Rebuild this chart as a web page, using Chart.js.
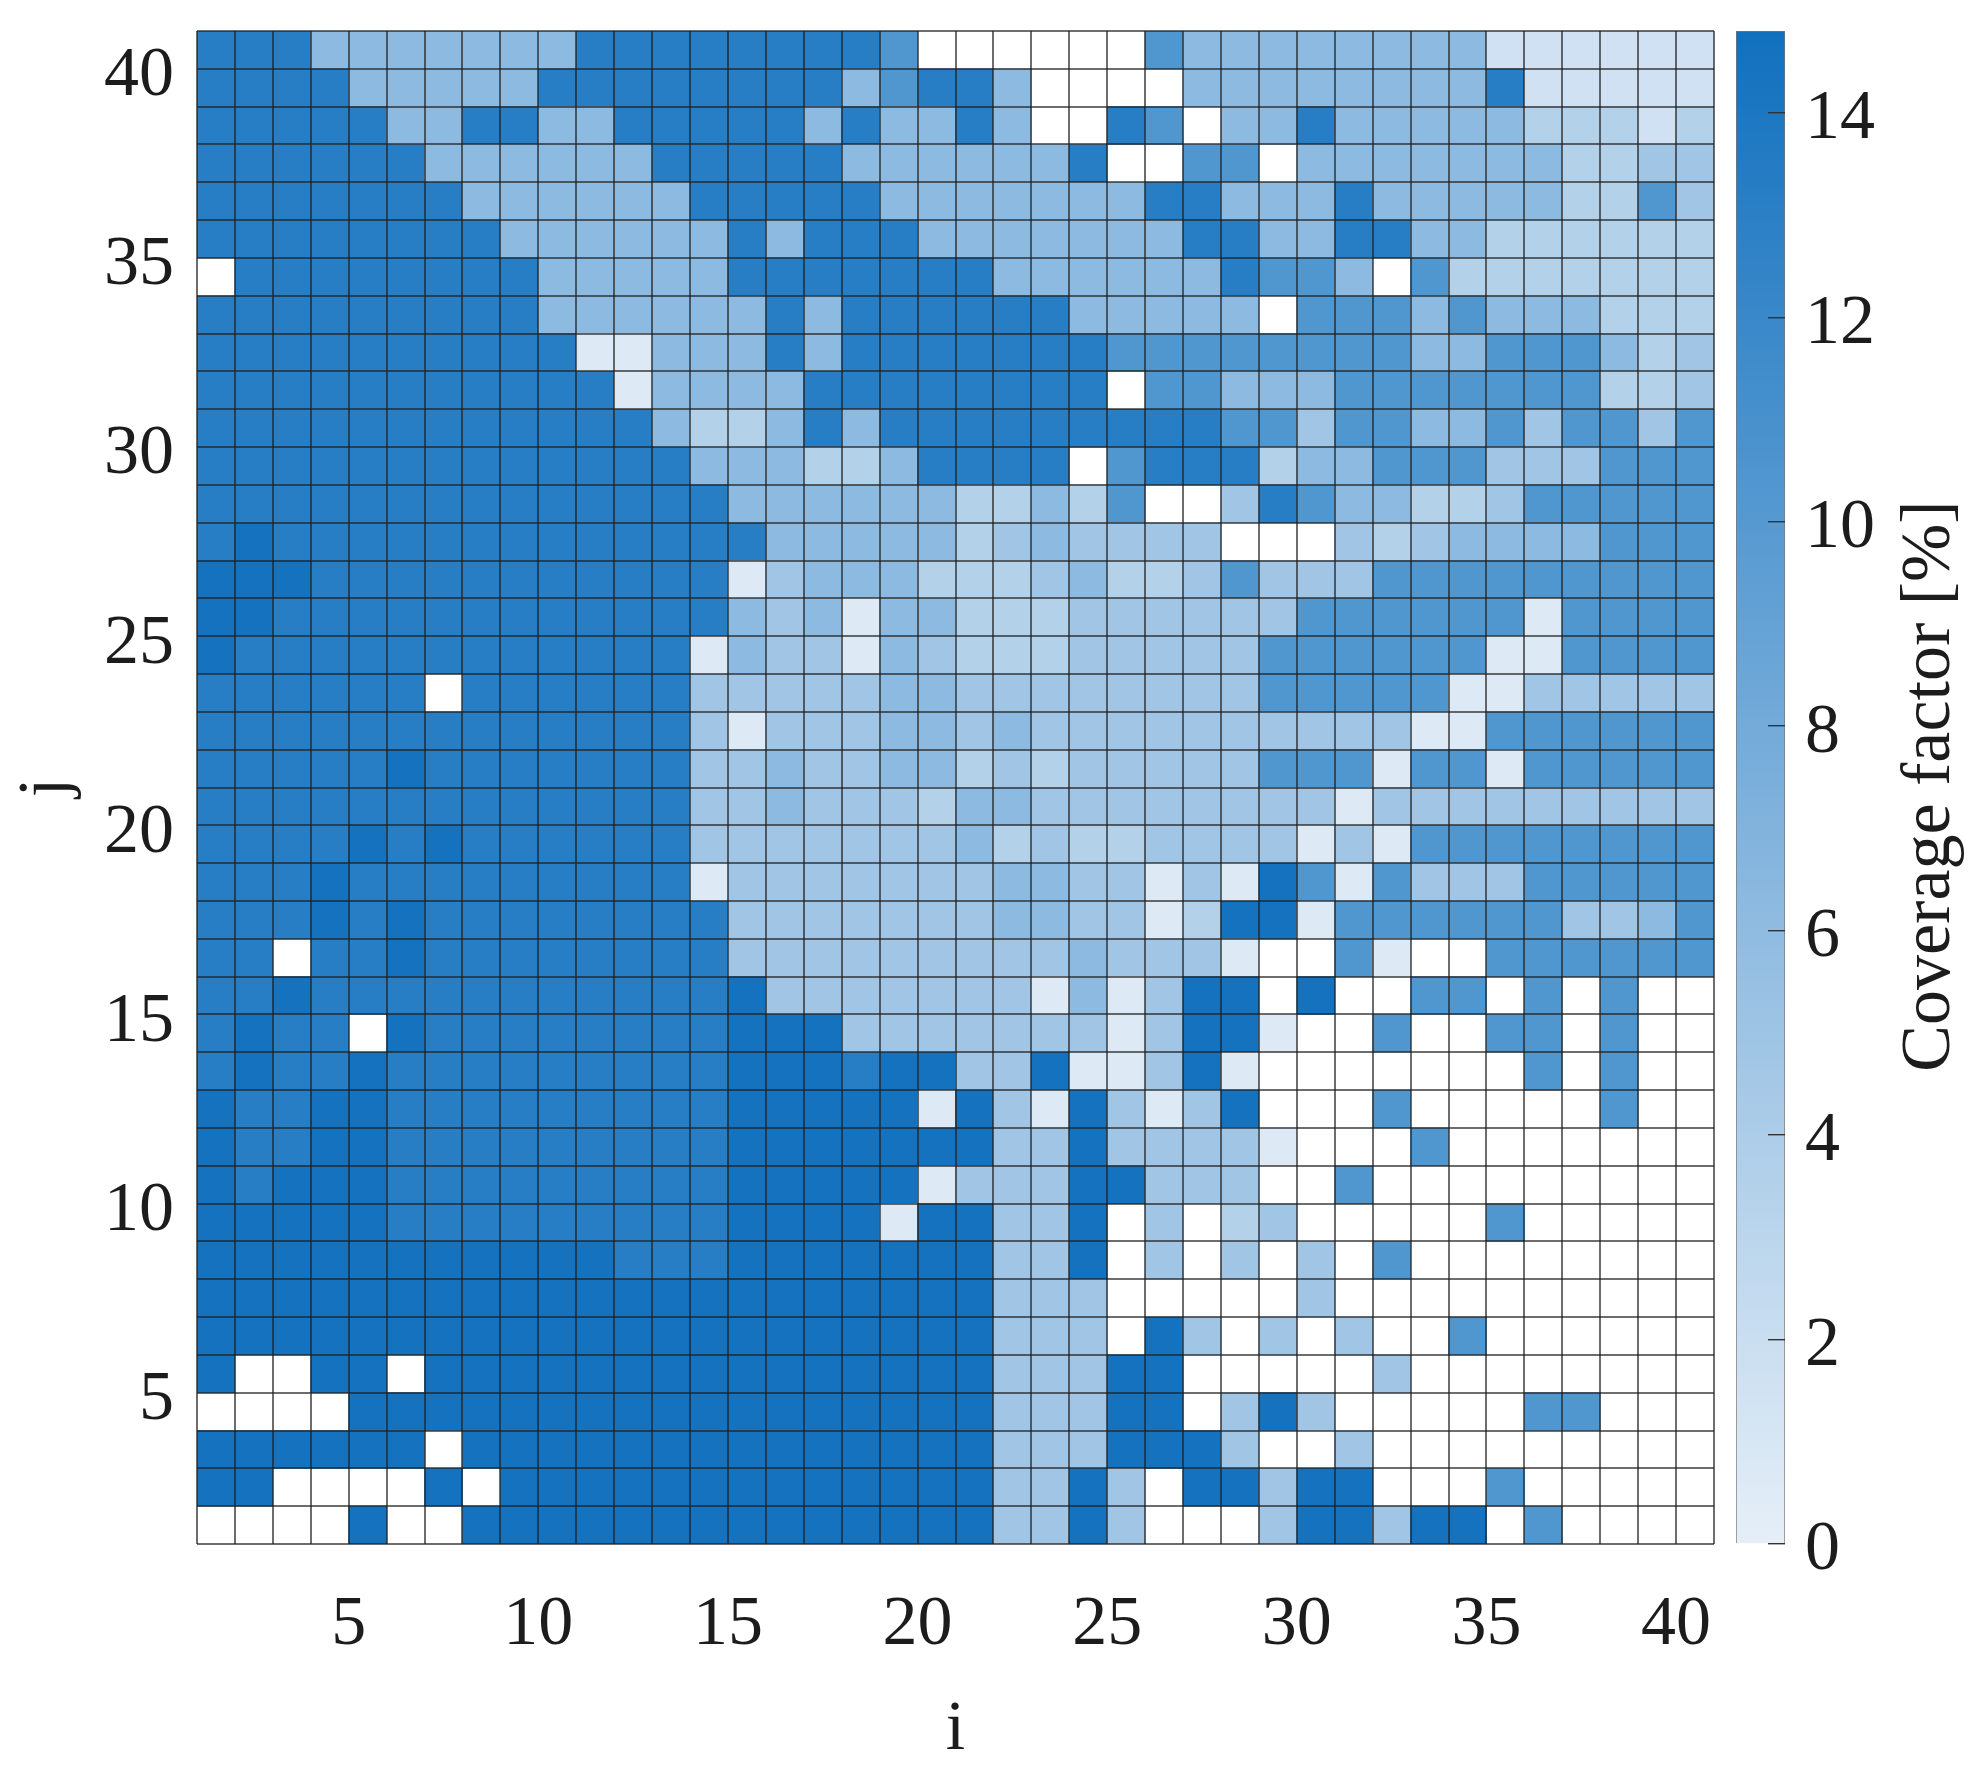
<!DOCTYPE html>
<html>
<head>
<meta charset="utf-8">
<title>Coverage factor</title>
<script src="https://cdn.jsdelivr.net/npm/chart.js@4"></script>
<style>
  html, body { margin: 0; padding: 0; background: #fff; }
  #page { position: relative; width: 1973px; height: 1777px; overflow: hidden; }
  #mapBox { position: absolute; left: 0; top: 0; width: 1722px; height: 1777px; }
  #barBox { position: absolute; left: 1730px; top: 0; width: 243px; height: 1777px; }
</style>
</head>
<body>
<div id="page">
  <div id="mapBox"><canvas id="mapChart"></canvas></div>
  <div id="barBox"><canvas id="barChart"></canvas></div>
</div>
<script>
// Coverage factor [%] per cell, one array per row j, columns i = 1..40. _ = no value (white)
const _ = null;
const j40 = [13.2,13.2,13.2,6.2,6.2,6.2,6.2,6.2,6.2,6.2,13.2,13.2,13.2,13.2,13.2,13.2,13.2,13.2,10.4,_,_,_,_,_,_,10.4,6.2,6.2,6.2,6.2,6.2,6.2,6.2,6.2,1.6,1.6,1.6,1.6,1.6,1.6];
const j39 = [13.2,13.2,13.2,13.2,6.2,6.2,6.2,6.2,6.2,13.2,13.2,13.2,13.2,13.2,13.2,13.2,13.2,6.2,10.4,13.2,13.2,6.2,_,_,_,_,6.2,6.2,6.2,6.2,6.2,6.2,6.2,6.2,13.2,1.6,1.6,1.6,1.6,1.6];
const j38 = [13.2,13.2,13.2,13.2,13.2,6.2,6.2,13.2,13.2,6.2,6.2,13.2,13.2,13.2,13.2,13.2,6.2,13.2,6.2,6.2,13.2,6.2,_,_,13.2,10.4,_,6.2,6.2,13.2,6.2,6.2,6.2,6.2,6.2,3.5,3.5,3.5,1.6,3.5];
const j37 = [13.2,13.2,13.2,13.2,13.2,13.2,6.2,6.2,6.2,6.2,6.2,6.2,13.2,13.2,13.2,13.2,13.2,6.2,6.2,6.2,6.2,6.2,6.2,13.2,_,_,10.4,10.4,_,6.2,6.2,6.2,6.2,6.2,6.2,6.2,3.5,3.5,4.8,4.8];
const j36 = [13.2,13.2,13.2,13.2,13.2,13.2,13.2,6.2,6.2,6.2,6.2,6.2,6.2,13.2,13.2,13.2,13.2,13.2,6.2,6.2,6.2,6.2,6.2,6.2,6.2,13.2,13.2,6.2,6.2,6.2,13.2,6.2,6.2,6.2,6.2,6.2,3.5,3.5,10.4,4.8];
const j35 = [13.2,13.2,13.2,13.2,13.2,13.2,13.2,13.2,6.2,6.2,6.2,6.2,6.2,6.2,13.2,6.2,13.2,13.2,13.2,6.2,6.2,6.2,6.2,6.2,6.2,6.2,13.2,13.2,6.2,6.2,13.2,13.2,6.2,6.2,3.5,3.5,3.5,3.5,3.5,3.5];
const j34 = [_,13.2,13.2,13.2,13.2,13.2,13.2,13.2,13.2,6.2,6.2,6.2,6.2,6.2,13.2,13.2,13.2,13.2,13.2,13.2,13.2,6.2,6.2,6.2,6.2,6.2,6.2,13.2,10.4,10.4,6.2,_,10.4,3.5,3.5,3.5,3.5,3.5,3.5,3.5];
const j33 = [13.2,13.2,13.2,13.2,13.2,13.2,13.2,13.2,13.2,6.2,6.2,6.2,6.2,6.2,6.2,13.2,6.2,13.2,13.2,13.2,13.2,13.2,13.2,6.2,6.2,6.2,6.2,6.2,_,10.4,10.4,10.4,6.2,10.4,6.2,6.2,6.2,3.5,3.5,3.5];
const j32 = [13.2,13.2,13.2,13.2,13.2,13.2,13.2,13.2,13.2,13.2,0.6,0.6,6.2,6.2,6.2,13.2,6.2,13.2,13.2,13.2,13.2,13.2,13.2,13.2,10.4,10.4,10.4,10.4,10.4,10.4,10.4,10.4,6.2,6.2,10.4,10.4,10.4,6.2,3.5,4.8];
const j31 = [13.2,13.2,13.2,13.2,13.2,13.2,13.2,13.2,13.2,13.2,13.2,0.6,6.2,6.2,6.2,6.2,13.2,13.2,13.2,13.2,13.2,13.2,13.2,13.2,_,10.4,10.4,6.2,6.2,6.2,10.4,10.4,10.4,10.4,10.4,10.4,10.4,3.5,3.5,4.8];
const j30 = [13.2,13.2,13.2,13.2,13.2,13.2,13.2,13.2,13.2,13.2,13.2,13.2,6.2,3.5,3.5,6.2,13.2,6.2,13.2,13.2,13.2,13.2,13.2,13.2,13.2,13.2,13.2,10.4,10.4,4.8,10.4,10.4,6.2,6.2,10.4,4.8,10.4,10.4,4.8,10.4];
const j29 = [13.2,13.2,13.2,13.2,13.2,13.2,13.2,13.2,13.2,13.2,13.2,13.2,13.2,6.2,6.2,6.2,3.5,3.5,6.2,13.2,13.2,13.2,13.2,_,10.4,13.2,13.2,13.2,3.5,6.2,6.2,10.4,10.4,10.4,4.8,4.8,4.8,10.4,10.4,10.4];
const j28 = [13.2,13.2,13.2,13.2,13.2,13.2,13.2,13.2,13.2,13.2,13.2,13.2,13.2,13.2,6.2,6.2,6.2,6.2,6.2,6.2,3.5,3.5,6.2,3.5,10.4,_,_,4.8,13.2,10.4,6.2,6.2,3.5,3.5,4.8,10.4,10.4,10.4,10.4,10.4];
const j27 = [13.2,14.6,13.2,13.2,13.2,13.2,13.2,13.2,13.2,13.2,13.2,13.2,13.2,13.2,13.2,6.2,6.2,6.2,6.2,6.2,3.5,4.8,6.2,4.8,4.8,4.8,4.8,_,_,_,4.8,3.5,4.8,6.2,6.2,6.2,6.2,10.4,10.4,10.4];
const j26 = [14.6,14.6,14.6,13.2,13.2,13.2,13.2,13.2,13.2,13.2,13.2,13.2,13.2,13.2,0.6,4.8,6.2,6.2,6.2,3.5,3.5,3.5,4.8,6.2,3.5,3.5,4.8,10.4,4.8,4.8,4.8,10.4,10.4,10.4,10.4,10.4,10.4,10.4,10.4,10.4];
const j25 = [14.6,14.6,13.2,13.2,13.2,13.2,13.2,13.2,13.2,13.2,13.2,13.2,13.2,13.2,6.2,4.8,6.2,0.6,6.2,6.2,3.5,3.5,3.5,4.8,4.8,4.8,4.8,4.8,4.8,10.4,10.4,10.4,10.4,10.4,10.4,0.6,10.4,10.4,10.4,10.4];
const j24 = [14.6,13.2,13.2,13.2,13.2,13.2,13.2,13.2,13.2,13.2,13.2,13.2,13.2,0.6,6.2,4.8,4.8,0.6,6.2,4.8,3.5,3.5,3.5,4.8,4.8,4.8,4.8,4.8,10.4,10.4,10.4,10.4,10.4,10.4,0.6,0.6,10.4,10.4,10.4,10.4];
const j23 = [13.2,13.2,13.2,13.2,13.2,13.2,_,13.2,13.2,13.2,13.2,13.2,13.2,4.8,4.8,4.8,4.8,4.8,6.2,6.2,4.8,4.8,4.8,4.8,4.8,4.8,4.8,4.8,10.4,10.4,10.4,10.4,10.4,0.6,0.6,4.8,4.8,4.8,4.8,4.8];
const j22 = [13.2,13.2,13.2,13.2,13.2,13.2,13.2,13.2,13.2,13.2,13.2,13.2,13.2,4.8,0.6,4.8,4.8,4.8,6.2,6.2,4.8,6.2,4.8,4.8,4.8,4.8,4.8,4.8,4.8,4.8,4.8,4.8,0.6,0.6,10.4,10.4,10.4,10.4,10.4,10.4];
const j21 = [13.2,13.2,13.2,13.2,13.2,14.6,13.2,13.2,13.2,13.2,13.2,13.2,13.2,4.8,4.8,6.2,4.8,4.8,6.2,6.2,3.5,4.8,3.5,4.8,4.8,4.8,4.8,4.8,10.4,10.4,10.4,0.6,10.4,10.4,0.6,10.4,10.4,10.4,10.4,10.4];
const j20 = [13.2,13.2,13.2,13.2,13.2,13.2,13.2,13.2,13.2,13.2,13.2,13.2,13.2,4.8,4.8,6.2,4.8,4.8,4.8,3.5,6.2,6.2,4.8,4.8,4.8,4.8,4.8,4.8,4.8,4.8,0.6,4.8,4.8,4.8,4.8,4.8,4.8,4.8,4.8,4.8];
const j19 = [13.2,13.2,13.2,13.2,14.6,13.2,14.6,13.2,13.2,13.2,13.2,13.2,13.2,4.8,4.8,4.8,4.8,4.8,4.8,4.8,6.2,3.5,4.8,3.5,3.5,4.8,4.8,4.8,4.8,0.6,4.8,0.6,10.4,10.4,10.4,10.4,10.4,10.4,10.4,10.4];
const j18 = [13.2,13.2,13.2,14.6,13.2,13.2,13.2,13.2,13.2,13.2,13.2,13.2,13.2,0.6,4.8,4.8,4.8,4.8,4.8,4.8,4.8,6.2,6.2,4.8,4.8,0.6,4.8,0.6,14.6,10.4,0.6,10.4,4.8,4.8,4.8,10.4,10.4,10.4,10.4,10.4];
const j17 = [13.2,13.2,13.2,14.6,13.2,14.6,13.2,13.2,13.2,13.2,13.2,13.2,13.2,13.2,4.8,4.8,4.8,4.8,4.8,4.8,4.8,6.2,6.2,4.8,4.8,0.6,3.5,14.6,14.6,0.6,10.4,10.4,10.4,10.4,10.4,10.4,4.8,4.8,6.2,10.4];
const j16 = [13.2,13.2,_,13.2,13.2,14.6,13.2,13.2,13.2,13.2,13.2,13.2,13.2,13.2,4.8,4.8,4.8,4.8,4.8,4.8,4.8,4.8,4.8,6.2,4.8,4.8,4.8,0.6,_,_,10.4,0.6,_,_,10.4,10.4,10.4,10.4,10.4,10.4];
const j15 = [13.2,13.2,14.6,13.2,13.2,13.2,13.2,13.2,13.2,13.2,13.2,13.2,13.2,13.2,14.6,4.8,4.8,4.8,4.8,4.8,4.8,4.8,0.6,6.2,0.6,4.8,14.6,14.6,_,14.6,_,_,10.4,10.4,_,10.4,_,10.4,_,_];
const j14 = [13.2,14.6,13.2,13.2,_,14.6,13.2,13.2,13.2,13.2,13.2,13.2,13.2,13.2,14.6,14.6,14.6,4.8,4.8,4.8,4.8,4.8,4.8,4.8,0.6,4.8,14.6,14.6,0.6,_,_,10.4,_,_,10.4,10.4,_,10.4,_,_];
const j13 = [13.2,14.6,13.2,13.2,14.6,13.2,13.2,13.2,13.2,13.2,13.2,13.2,13.2,13.2,14.6,14.6,14.6,13.2,14.6,14.6,4.8,4.8,14.6,0.6,0.6,4.8,14.6,0.6,_,_,_,_,_,_,_,10.4,_,10.4,_,_];
const j12 = [14.6,13.2,13.2,14.6,14.6,13.2,13.2,13.2,13.2,13.2,13.2,13.2,13.2,13.2,14.6,14.6,14.6,14.6,14.6,0.6,14.6,4.8,0.6,14.6,4.8,0.6,4.8,14.6,_,_,_,10.4,_,_,_,_,_,10.4,_,_];
const j11 = [14.6,13.2,13.2,14.6,14.6,13.2,13.2,13.2,13.2,13.2,13.2,13.2,13.2,13.2,14.6,14.6,14.6,14.6,14.6,14.6,14.6,4.8,4.8,14.6,4.8,4.8,4.8,4.8,0.6,_,_,_,10.4,_,_,_,_,_,_,_];
const j10 = [14.6,13.2,14.6,14.6,14.6,13.2,13.2,13.2,13.2,13.2,13.2,13.2,13.2,13.2,14.6,14.6,14.6,14.6,14.6,0.6,4.8,4.8,4.8,14.6,14.6,4.8,4.8,4.8,_,_,10.4,_,_,_,_,_,_,_,_,_];
const j9 = [14.6,14.6,14.6,14.6,14.6,13.2,13.2,13.2,13.2,13.2,13.2,13.2,13.2,13.2,14.6,14.6,14.6,14.6,0.6,14.6,14.6,4.8,4.8,14.6,_,4.8,_,3.5,4.8,_,_,_,_,_,10.4,_,_,_,_,_];
const j8 = [14.6,14.6,14.6,14.6,14.6,14.6,14.6,14.6,14.6,14.6,14.6,13.2,13.2,13.2,14.6,14.6,14.6,14.6,14.6,14.6,14.6,4.8,4.8,14.6,_,4.8,_,4.8,_,4.8,_,10.4,_,_,_,_,_,_,_,_];
const j7 = [14.6,14.6,14.6,14.6,14.6,14.6,14.6,14.6,14.6,14.6,14.6,14.6,14.6,14.6,14.6,14.6,14.6,14.6,14.6,14.6,14.6,4.8,4.8,4.8,_,_,_,_,_,4.8,_,_,_,_,_,_,_,_,_,_];
const j6 = [14.6,14.6,14.6,14.6,14.6,14.6,14.6,14.6,14.6,14.6,14.6,14.6,14.6,14.6,14.6,14.6,14.6,14.6,14.6,14.6,14.6,4.8,4.8,4.8,_,14.6,4.8,_,4.8,_,4.8,_,_,10.4,_,_,_,_,_,_];
const j5 = [14.6,_,_,14.6,14.6,_,14.6,14.6,14.6,14.6,14.6,14.6,14.6,14.6,14.6,14.6,14.6,14.6,14.6,14.6,14.6,4.8,4.8,4.8,14.6,14.6,_,_,_,_,_,4.8,_,_,_,_,_,_,_,_];
const j4 = [_,_,_,_,14.6,14.6,14.6,14.6,14.6,14.6,14.6,14.6,14.6,14.6,14.6,14.6,14.6,14.6,14.6,14.6,14.6,4.8,4.8,4.8,14.6,14.6,_,4.8,14.6,4.8,_,_,_,_,_,10.4,10.4,_,_,_];
const j3 = [14.6,14.6,14.6,14.6,14.6,14.6,_,14.6,14.6,14.6,14.6,14.6,14.6,14.6,14.6,14.6,14.6,14.6,14.6,14.6,14.6,4.8,4.8,4.8,14.6,14.6,14.6,4.8,_,_,4.8,_,_,_,_,_,_,_,_,_];
const j2 = [14.6,14.6,_,_,_,_,14.6,_,14.6,14.6,14.6,14.6,14.6,14.6,14.6,14.6,14.6,14.6,14.6,14.6,14.6,4.8,4.8,14.6,4.8,_,14.6,14.6,4.8,14.6,14.6,_,_,_,10.4,_,_,_,_,_];
const j1 = [_,_,_,_,14.6,_,_,14.6,14.6,14.6,14.6,14.6,14.6,14.6,14.6,14.6,14.6,14.6,14.6,14.6,14.6,4.8,4.8,14.6,4.8,_,_,_,4.8,14.6,14.6,4.8,14.6,14.6,_,10.4,_,_,_,_];
const rows = [j1,j2,j3,j4,j5,j6,j7,j8,j9,j10,j11,j12,j13,j14,j15,j16,j17,j18,j19,j20,j21,j22,j23,j24,j25,j26,j27,j28,j29,j30,j31,j32,j33,j34,j35,j36,j37,j38,j39,j40];

const axisTicks = [5, 10, 15, 20, 25, 30, 35, 40];
const colorTicks = [0, 2, 4, 6, 8, 10, 12, 14];
const colorMax = 14.8;

const FONT = '"Liberation Serif", serif';
const FONT_SIZE = 70;
const TEXT = '#1c1c1c';
const LOW = [230, 239, 248];
const HIGH = [17, 112, 190];

function cellColor(v) {
    const t = v / colorMax;
    const c = LOW.map((l, n) => Math.round(l + (HIGH[n] - l) * t));
    return `rgb(${c[0]},${c[1]},${c[2]})`;
}

// labels must not push the plot area in, the frame sits at fixed pixels
function noOverflow(scale) {
    scale.paddingLeft = 0;
    scale.paddingRight = 0;
    scale.paddingTop = 0;
    scale.paddingBottom = 0;
}

// one floating-bar dataset per row, cell j sits between j and j+1 like a pcolor plot
const datasets = rows.map((row, r) => {
    const j = r + 1;
    const cells = row
        .map((v, k) => ({ x: k + 1.5, y: [j, j + 1], v: v }))
        .filter(c => c.v !== null);
    return {
        data: cells,
        backgroundColor: cells.map(c => cellColor(c.v)),
        borderWidth: 0
    };
});

function gridAxis(title, titlePadding, fitSize, tickPadding, labelOffset) {
    return {
        type: 'linear',
        min: 1,
        max: 41,
        offset: false,
        afterBuildTicks: scale => {
            const all = [];
            for (let n = 1; n <= 41; n++) all.push({ value: n });
            scale.ticks = all;
        },
        afterFit: scale => {
            if (scale.isHorizontal()) scale.height = fitSize;
            else scale.width = fitSize;
            noOverflow(scale);
        },
        border: { display: false },
        grid: {
            offset: false,
            z: 1,
            drawTicks: false,
            lineWidth: 2,
            color: 'rgba(30,30,30,0.65)'
        },
        ticks: {
            autoSkip: false,
            maxRotation: 0,
            padding: tickPadding,
            labelOffset: labelOffset,
            color: TEXT,
            font: { family: FONT, size: FONT_SIZE },
            callback: value => axisTicks.includes(value) ? String(value) : ''
        },
        title: {
            display: true,
            text: title,
            color: TEXT,
            padding: titlePadding,
            font: { family: FONT, size: FONT_SIZE }
        }
    };
}

new Chart(document.getElementById('mapChart'), {
    type: 'bar',
    data: { datasets: datasets },
    options: {
        responsive: true,
        maintainAspectRatio: false,
        animation: false,
        layout: { autoPadding: false, padding: { top: 31, right: 8, left: 0, bottom: 0 } },
        datasets: { bar: { grouped: false, barPercentage: 1, categoryPercentage: 1 } },
        plugins: { legend: { display: false }, tooltip: { enabled: false } },
        scales: {
            x: gridAxis('i', { top: 0, bottom: 4 }, 233, 40, 0),
            y: gridAxis('j', { top: 6, bottom: 0 }, 197, 23, 8)
        }
    }
});

// colour bar title reads upwards, the scale title on a right axis can't do that
const colorbarLabel = {
    id: 'colorbarLabel',
    afterDraw(chart) {
        const ctx = chart.ctx;
        ctx.save();
        ctx.translate(201, 786);
        ctx.rotate(-Math.PI / 2);
        ctx.font = FONT_SIZE + 'px ' + FONT;
        ctx.fillStyle = TEXT;
        ctx.textAlign = 'center';
        ctx.textBaseline = 'middle';
        ctx.fillText('Coverage factor [%]', 0, 0);
        ctx.restore();
    }
};

new Chart(document.getElementById('barChart'), {
    type: 'bar',
    data: {
        labels: ['Coverage factor [%]'],
        datasets: [{
            data: [[0, colorMax]],
            barPercentage: 1,
            categoryPercentage: 1,
            borderWidth: 1,
            borderColor: '#777',
            backgroundColor: ctx => {
                const y = ctx.chart.scales.y;
                if (y.top === undefined) return cellColor(colorMax);
                const grad = ctx.chart.ctx.createLinearGradient(0, y.getPixelForValue(0), 0, y.getPixelForValue(colorMax));
                grad.addColorStop(0, cellColor(0));
                grad.addColorStop(1, cellColor(colorMax));
                return grad;
            }
        }]
    },
    options: {
        responsive: true,
        maintainAspectRatio: false,
        animation: false,
        layout: { autoPadding: false, padding: { top: 31, right: 0, left: 6, bottom: 233 } },
        plugins: { legend: { display: false }, tooltip: { enabled: false } },
        scales: {
            x: { display: false },
            y: {
                position: 'right',
                min: 0,
                max: colorMax,
                afterBuildTicks: scale => {
                    scale.ticks = colorTicks.map(v => ({ value: v }));
                },
                afterFit: scale => {
                    scale.width = 188;
                    noOverflow(scale);
                },
                border: { display: false },
                grid: {
                    z: 1,
                    drawOnChartArea: false,
                    tickLength: -17,
                    lineWidth: 1.4,
                    color: '#333'
                },
                ticks: {
                    padding: 37,
                    labelOffset: 7,
                    color: TEXT,
                    font: { family: FONT, size: FONT_SIZE }
                }
            }
        }
    },
    plugins: [colorbarLabel]
});
</script>
</body>
</html>
